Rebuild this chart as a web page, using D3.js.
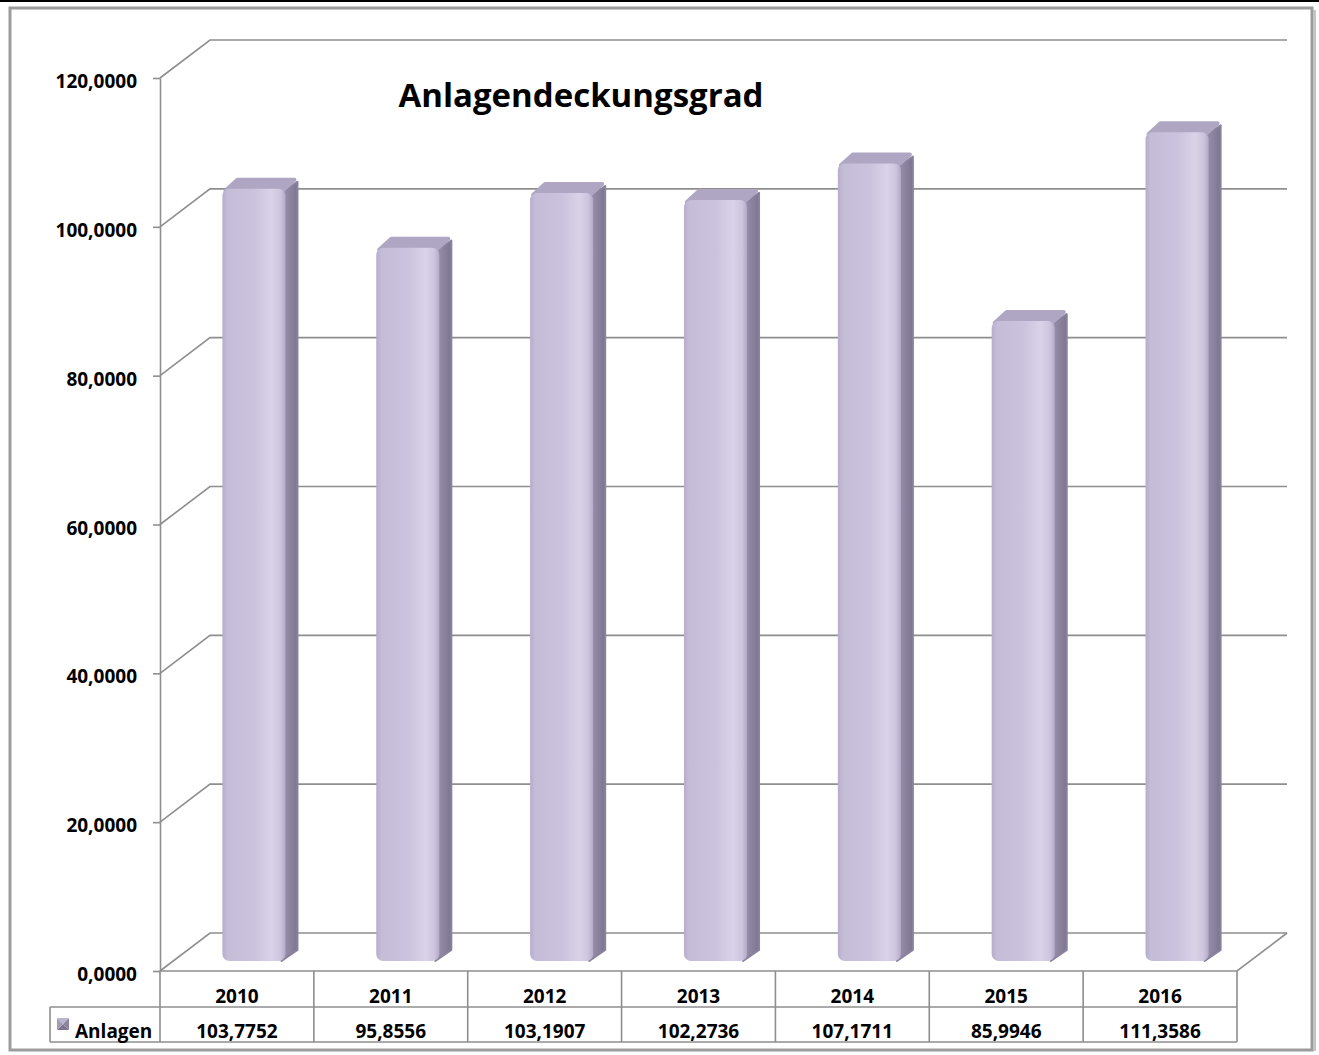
<!DOCTYPE html>
<html>
<head>
<meta charset="utf-8">
<script src="https://cdn.jsdelivr.net/npm/d3@7"></script>
<style>
  body { margin: 0; background: #fff; }
  text { font-family: "Open Sans", "Liberation Sans", sans-serif; font-weight: bold; fill: #000; }
</style>
</head>
<body>
<svg id="chart" width="1319" height="1055"></svg>
<script>
  // data
  var years = ['2010', '2011', '2012', '2013', '2014', '2015', '2016'];
  var values = [103.7752, 95.8556, 103.1907, 102.2736, 107.1711, 85.9946, 111.3586];
  var yTicks = [0, 20, 40, 60, 80, 100, 120];
  var seriesName = 'Anlagen';
  var chartTitle = 'Anlagendeckungsgrad';

  const PLOT = { LEFT: 160, RIGHT: 1237, TOP: 78, BOTTOM: 971 };
  const DEPTH = { X: 50, Y: -38 };
  const BAR = { WIDTH: 0.41, SHIFT_X: 17, SHIFT_Y: -10, SIDE_X: 12, SIDE_Y: -11 };
  const TABLE = { ROW1: 1007, ROW2: 1042, LEGEND_LEFT: 50 };
  const GRID = '#8e8e8e';

  var de = d3.formatLocale({ decimal: ',', thousands: '.', grouping: [3], currency: ['', ' €'] });
  var fmt = de.format('.4f');

  var svg = d3.select('#chart');

  // frame
  svg.append('rect')
    .attr('x', 10).attr('y', 8).attr('width', 1302).attr('height', 1042)
    .attr('fill', '#fff').attr('stroke', '#9c9c9c').attr('stroke-width', 3);
  svg.append('line')
    .attr('x1', 1314.5).attr('x2', 1314.5).attr('y1', 10).attr('y2', 1051)
    .attr('stroke', '#c4c4c4').attr('stroke-width', 3);
  svg.append('line')
    .attr('x1', 0).attr('x2', 1319).attr('y1', 1).attr('y2', 1)
    .attr('stroke', '#000').attr('stroke-width', 2);

  var x = d3.scaleBand()
    .domain(years)
    .range([PLOT.LEFT, PLOT.RIGHT]);

  var y = d3.scaleLinear()
    .domain([0, 120])
    .range([PLOT.BOTTOM, PLOT.TOP]);

  var defs = svg.append('defs');
  var front = defs.append('linearGradient').attr('id', 'barFront')
    .attr('x1', 0).attr('x2', 1).attr('y1', 0).attr('y2', 0);
  [['0', '#b7adcb'], ['0.08', '#c5bcd8'], ['0.5', '#cbc3dd'], ['0.78', '#d9d2e8'], ['0.92', '#cdc5de'], ['1', '#b4aac9']]
    .forEach(function(s) { front.append('stop').attr('offset', s[0]).attr('stop-color', s[1]); });
  var side = defs.append('linearGradient').attr('id', 'barSide')
    .attr('x1', 0).attr('x2', 1).attr('y1', 0).attr('y2', 0);
  [['0', '#9d95b0'], ['1', '#7d7590']]
    .forEach(function(s) { side.append('stop').attr('offset', s[0]).attr('stop-color', s[1]); });

  // back wall grid lines with the diagonal on the side wall
  svg.append('g').selectAll('path')
    .data(yTicks)
    .enter().append('path')
    .attr('fill', 'none')
    .attr('stroke', GRID)
    .attr('stroke-width', 1.6)
    .attr('d', function(d) {
      var yy = y(d);
      return 'M' + PLOT.LEFT + ',' + yy +
        'L' + (PLOT.LEFT + DEPTH.X) + ',' + (yy + DEPTH.Y) +
        'L' + (PLOT.RIGHT + DEPTH.X) + ',' + (yy + DEPTH.Y);
    });

  // floor edge
  svg.append('path')
    .attr('fill', 'none').attr('stroke', GRID).attr('stroke-width', 1.6)
    .attr('d', 'M' + PLOT.LEFT + ',' + PLOT.BOTTOM + 'L' + PLOT.RIGHT + ',' + PLOT.BOTTOM +
      'L' + (PLOT.RIGHT + DEPTH.X) + ',' + (PLOT.BOTTOM + DEPTH.Y));

  // y axis
  var yAxis = d3.axisLeft(y)
    .tickValues(yTicks)
    .tickSize(7)
    .tickSizeOuter(0)
    .tickPadding(16)
    .tickFormat(fmt);

  var ax = svg.append('g')
    .attr('transform', 'translate(' + PLOT.LEFT + ',0)')
    .call(yAxis);
  ax.select('.domain').attr('stroke', GRID).attr('stroke-width', 1.6);
  ax.selectAll('.tick line').attr('stroke', GRID).attr('stroke-width', 1.6);
  ax.selectAll('.tick text')
    .attr('font-family', null).attr('font-size', null)
    .style('font-size', '19px').attr('dy', '0.5em');

  // bars
  var bw = x.bandwidth() * BAR.WIDTH;
  var bars = svg.append('g').selectAll('g')
    .data(values)
    .enter().append('g');

  function x0(d, i) { return x(years[i]) + x.bandwidth() / 2 - bw / 2 + BAR.SHIFT_X; }
  function yb() { return y(0) + BAR.SHIFT_Y; }
  function yt(d) { return y(d) + BAR.SHIFT_Y; }

  bars.append('path')
    .attr('fill', 'url(#barSide)')
    .attr('stroke', '#8a829d').attr('stroke-width', 2).attr('stroke-linejoin', 'round')
    .attr('d', function(d, i) {
      var a = x0(d, i) + bw - 4;
      return 'M' + a + ',' + (yt(d) + 4) +
        'L' + (a + 4 + BAR.SIDE_X) + ',' + (yt(d) + 4 + BAR.SIDE_Y) +
        'L' + (a + 4 + BAR.SIDE_X) + ',' + (yb() + BAR.SIDE_Y) +
        'L' + a + ',' + yb() + 'Z';
    });

  bars.append('path')
    .attr('fill', '#aea6c2')
    .attr('stroke', '#aea6c2').attr('stroke-width', 4).attr('stroke-linejoin', 'round')
    .attr('d', function(d, i) {
      var a = x0(d, i) + 3;
      var t = yt(d) + 2;
      return 'M' + a + ',' + t +
        'L' + (a + BAR.SIDE_X) + ',' + (t + BAR.SIDE_Y) +
        'L' + (a + bw - 6 + BAR.SIDE_X) + ',' + (t + BAR.SIDE_Y) +
        'L' + (a + bw - 6) + ',' + t + 'Z';
    });

  bars.append('rect')
    .attr('fill', 'url(#barFront)')
    .attr('x', x0)
    .attr('y', yt)
    .attr('width', bw)
    .attr('height', function(d) { return yb() - yt(d); })
    .attr('rx', 7);

  // data table
  var table = svg.append('g')
    .attr('stroke', GRID).attr('stroke-width', 1.6);
  table.selectAll('line.v')
    .data(d3.range(years.length + 1))
    .enter().append('line')
    .attr('x1', function(i) { return i < years.length ? x(years[i]) : PLOT.RIGHT; })
    .attr('x2', function(i) { return i < years.length ? x(years[i]) : PLOT.RIGHT; })
    .attr('y1', PLOT.BOTTOM).attr('y2', TABLE.ROW2);
  table.append('line')
    .attr('x1', TABLE.LEGEND_LEFT).attr('x2', PLOT.RIGHT)
    .attr('y1', TABLE.ROW1).attr('y2', TABLE.ROW1);
  table.append('line')
    .attr('x1', TABLE.LEGEND_LEFT).attr('x2', PLOT.RIGHT)
    .attr('y1', TABLE.ROW2).attr('y2', TABLE.ROW2);
  table.append('line')
    .attr('x1', TABLE.LEGEND_LEFT).attr('x2', TABLE.LEGEND_LEFT)
    .attr('y1', TABLE.ROW1).attr('y2', TABLE.ROW2);

  svg.append('g').selectAll('text')
    .data(years)
    .enter().append('text')
    .attr('x', function(d) { return x(d) + x.bandwidth() / 2; })
    .attr('y', TABLE.ROW1 - 4)
    .attr('text-anchor', 'middle')
    .style('font-size', '19px')
    .text(function(d) { return d; });

  svg.append('g').selectAll('text')
    .data(values)
    .enter().append('text')
    .attr('x', function(d, i) { return x(years[i]) + x.bandwidth() / 2; })
    .attr('y', TABLE.ROW2 - 4)
    .attr('text-anchor', 'middle')
    .style('font-size', '19px')
    .text(function(d) { return fmt(d); });

  // legend key
  var kx = 57, ky = 1018, ks = 12;
  var key = svg.append('g');
  key.append('path').attr('fill', '#bdb4cf')
    .attr('d', 'M' + kx + ',' + ky + 'l' + ks + ',0l' + (-ks / 2) + ',' + (ks / 2) + 'Z');
  key.append('path').attr('fill', '#8d85a0')
    .attr('d', 'M' + (kx + ks) + ',' + ky + 'l0,' + ks + 'l' + (-ks / 2) + ',' + (-ks / 2) + 'Z');
  key.append('path').attr('fill', '#7d7590')
    .attr('d', 'M' + kx + ',' + (ky + ks) + 'l' + ks + ',0l' + (-ks / 2) + ',' + (-ks / 2) + 'Z');
  key.append('path').attr('fill', '#a49cb8')
    .attr('d', 'M' + kx + ',' + ky + 'l0,' + ks + 'l' + (ks / 2) + ',' + (-ks / 2) + 'Z');
  svg.append('text')
    .attr('x', 75).attr('y', TABLE.ROW2 - 4)
    .style('font-size', '19px')
    .text(seriesName);

  // title
  svg.append('text')
    .attr('x', 581).attr('y', 107)
    .attr('text-anchor', 'middle')
    .style('font-size', '33px')
    .text(chartTitle);
</script>
</body>
</html>
